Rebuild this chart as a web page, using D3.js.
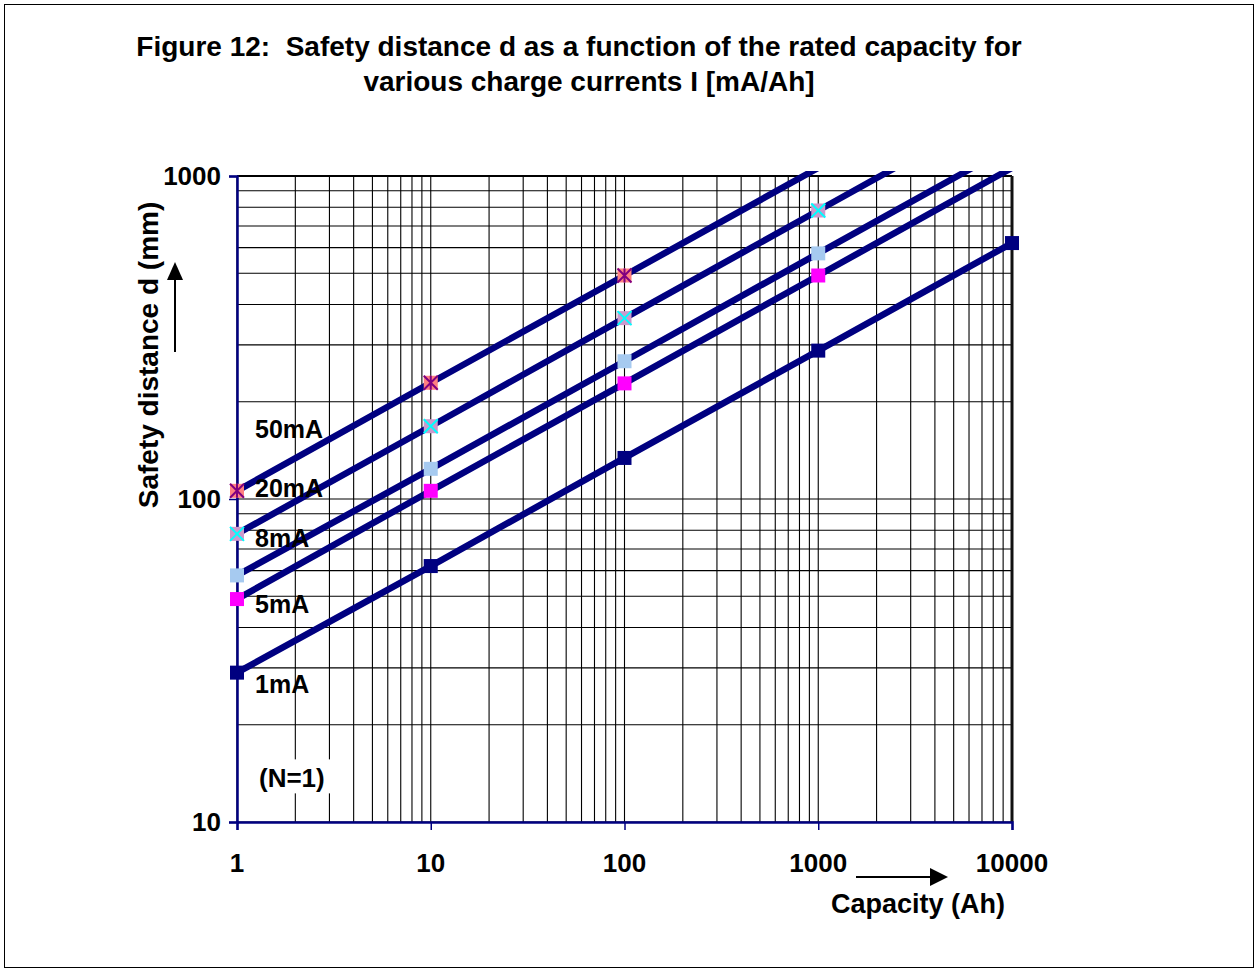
<!DOCTYPE html>
<html>
<head>
<meta charset="utf-8">
<script src="https://cdn.jsdelivr.net/npm/d3@7"></script>
<style>
  body { margin: 0; background: #fff; }
  text { font-family: "Liberation Sans", Arial, sans-serif; font-weight: bold; fill: #000; white-space: pre; }
</style>
</head>
<body>
<svg id="chart" width="1258" height="972"></svg>
<script>
// capacity (Ah) and safety distance d (mm) per charge current
const capacity = [1, 10, 100, 1000, 10000];
const currents = ["1mA", "5mA", "8mA", "20mA", "50mA"];
const d1mA  = [29, 62, 134, 288, 620];
const d5mA  = [49, 106, 228, 492, 1060];
const d8mA  = [58, 124, 267, 576, 1240];
const d20mA = [78, 168, 363, 782, 1685];
const d50mA = [106, 229, 492, 1060, 2285];
const xTicks = [1, 10, 100, 1000, 10000];
const yTicks = [10, 100, 1000];

const values = [d1mA, d5mA, d8mA, d20mA, d50mA];

// marker looks, same order as currents
const markerStyle = [
  { fill: "#000080", cross: null },
  { fill: "#ff00ff", cross: null },
  { fill: "#a6caf0", cross: null },
  { fill: "#cc99cc", cross: "#00ffff", star: false },
  { fill: "#ff8080", cross: "#800080", star: true }
];
// label heights in data units (mm), next to the y axis
const labelAt = [25, 44.4, 71, 101.4, 154];

const svg = d3.select("#chart");
const W = 1258, H = 972;

svg.append("rect")
  .attr("x", 4.5).attr("y", 4.5)
  .attr("width", W - 9).attr("height", H - 9)
  .attr("fill", "#fff").attr("stroke", "#000").attr("stroke-width", 1);

const x = d3.scaleLog().domain([1, 10000]).range([237, 1012]);
const y = d3.scaleLog().domain([10, 1000]).range([822, 176]);

// title
const title = svg.append("text")
  .attr("text-anchor", "middle")
  .style("font-size", "28px");
title.append("tspan").attr("x", 579).attr("y", 56)
  .text("Figure 12:  Safety distance d as a function of the rated capacity for");
title.append("tspan").attr("x", 589).attr("y", 91)
  .text("various charge currents I [mA/Ah]");

// grid
const grid = svg.append("g");
grid.selectAll("line.v")
  .data(x.ticks())
  .join("line")
  .attr("class", "v")
  .attr("x1", d => x(d)).attr("x2", d => x(d))
  .attr("y1", y(10)).attr("y2", y(1000))
  .attr("stroke", "#000").attr("stroke-width", 1.1);
grid.selectAll("line.h")
  .data(y.ticks())
  .join("line")
  .attr("class", "h")
  .attr("x1", x(1)).attr("x2", x(10000))
  .attr("y1", d => y(d)).attr("y2", d => y(d))
  .attr("stroke", "#000").attr("stroke-width", 1.1);

// frame: top and right black, axes navy
svg.append("line")
  .attr("x1", x(1)).attr("x2", x(10000)).attr("y1", y(1000)).attr("y2", y(1000))
  .attr("stroke", "#000").attr("stroke-width", 2);
svg.append("line")
  .attr("x1", x(10000)).attr("x2", x(10000)).attr("y1", y(1000)).attr("y2", y(10))
  .attr("stroke", "#111").attr("stroke-width", 3);

// (N=1) note with white box
const noteG = svg.append("g");
const note = noteG.append("text")
  .attr("x", 259).attr("y", y(12.8))
  .style("font-size", "26px")
  .text("(N=1)");
const nb = note.node().getBBox();
noteG.insert("rect", "text")
  .attr("x", nb.x - 14).attr("y", nb.y - 4)
  .attr("width", nb.width + 24).attr("height", nb.height + 4)
  .attr("fill", "#fff");

const xAxis = svg.append("g")
  .attr("transform", `translate(0,${y(10)})`)
  .call(d3.axisBottom(x).tickValues(xTicks).tickSize(8).tickFormat(""));
const yAxis = svg.append("g")
  .attr("transform", `translate(${x(1)},0)`)
  .call(d3.axisLeft(y).tickValues(yTicks).tickSize(8).tickFormat(""));
[xAxis, yAxis].forEach(a => {
  a.select(".domain").attr("stroke", "#000080").attr("stroke-width", 2.5);
  a.selectAll(".tick line").attr("stroke", "#000080").attr("stroke-width", 1.5);
});

// tick labels
svg.append("g").selectAll("text")
  .data(xTicks)
  .join("text")
  .attr("x", d => x(d))
  .attr("y", 872)
  .attr("text-anchor", "middle")
  .style("font-size", "26px")
  .text(d => d);
svg.append("g").selectAll("text")
  .data(yTicks)
  .join("text")
  .attr("x", 221)
  .attr("y", d => y(d))
  .attr("dy", "0.36em")
  .attr("text-anchor", "end")
  .style("font-size", "26px")
  .text(d => d);

// series lines
svg.append("clipPath").attr("id", "plotClip")
  .append("rect")
  .attr("x", x(1) - 10).attr("y", y(1000) - 5)
  .attr("width", x(10000) - x(1) + 20).attr("height", y(10) - y(1000) + 5);

const line = d3.line()
  .x((d, i) => x(capacity[i]))
  .y(d => y(d));

svg.append("g").attr("clip-path", "url(#plotClip)")
  .selectAll("path")
  .data(values)
  .join("path")
  .attr("d", line)
  .attr("fill", "none")
  .attr("stroke", "#000080")
  .attr("stroke-width", 6.5);

// markers
const ms = 14;
values.forEach((vals, s) => {
  const st = markerStyle[s];
  const pts = vals.map((v, i) => ({ c: capacity[i], v })).filter(p => p.v <= 1000);
  const g = svg.append("g").selectAll("g")
    .data(pts)
    .join("g")
    .attr("transform", p => `translate(${x(p.c)},${y(p.v)})`);
  g.append("rect")
    .attr("x", -ms / 2).attr("y", -ms / 2)
    .attr("width", ms).attr("height", ms)
    .attr("fill", st.fill);
  if (st.cross) {
    const h = ms / 2;
    g.append("path")
      .attr("d", `M${-h},${-h}L${h},${h}M${-h},${h}L${h},${-h}` + (st.star ? `M0,${-h}L0,${h}` : ""))
      .attr("stroke", st.cross).attr("stroke-width", 2).attr("fill", "none");
  }
});

// series labels
svg.append("g").selectAll("text")
  .data(currents)
  .join("text")
  .attr("x", 255)
  .attr("y", (d, i) => y(labelAt[i]))
  .style("font-size", "25px")
  .text(d => d);

// axis titles and arrows
svg.append("text")
  .attr("transform", "translate(158,355) rotate(-90)")
  .attr("text-anchor", "middle")
  .style("font-size", "28px")
  .text("Safety distance d (mm)");
svg.append("text")
  .attr("x", 918).attr("y", 913)
  .attr("text-anchor", "middle")
  .style("font-size", "27px")
  .text("Capacity (Ah)");

svg.append("line")
  .attr("x1", 175).attr("x2", 175).attr("y1", 352).attr("y2", 276)
  .attr("stroke", "#000").attr("stroke-width", 2);
svg.append("path")
  .attr("d", "M175,262L167,280L183,280Z").attr("fill", "#000");
svg.append("line")
  .attr("x1", 856).attr("x2", 934).attr("y1", 877).attr("y2", 877)
  .attr("stroke", "#000").attr("stroke-width", 2);
svg.append("path")
  .attr("d", "M948,877L930,868L930,886Z").attr("fill", "#000");
</script>
</body>
</html>
